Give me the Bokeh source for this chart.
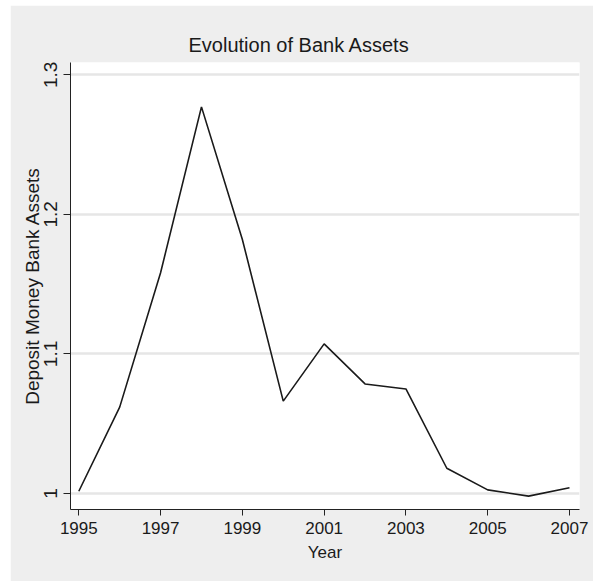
from bokeh.plotting import figure
from bokeh.models import Range1d, FixedTicker, NumeralTickFormatter
from bokeh.embed import file_html
from bokeh.resources import INLINE

years = [1995, 1996, 1997, 1998, 1999, 2000, 2001, 2002, 2003, 2004, 2005, 2006, 2007]
assets = [1.0016, 1.0619, 1.1582, 1.2770, 1.1820, 1.0662, 1.1072, 1.0785, 1.0749,
          1.0181, 1.0026, 0.9981, 1.0041]
x_ticks = [1995, 1997, 1999, 2001, 2003, 2005, 2007]
y_ticks = [1.0, 1.1, 1.2, 1.3]

REG = "Liberation Sans"
BG = "#eeeeee"

p = figure(width=583, height=576, output_backend="svg", toolbar_location=None,
           x_range=Range1d(1994.797, 2007.245), y_range=Range1d(0.98854, 1.3088),
           min_border_left=60, min_border_right=14, min_border_top=57, min_border_bottom=72,
           title="Evolution of Bank Assets")
p.margin = (5, 0, 0, 10)
p.border_fill_color = BG
p.background_fill_color = "white"
p.outline_line_color = None

p.title.align = "left"
p.title.text_font = REG
p.title.text_font_size = "20px"
p.title.text_font_style = "normal"
p.title.text_color = "#1a1a1a"
p.title.offset = 118
p.title.standoff = 14

p.line(years, assets, line_color="#1a1a1a", line_width=1.6)

p.xgrid.visible = False
p.ygrid.ticker = FixedTicker(ticks=y_ticks)
p.ygrid.grid_line_color = "#e6e6e6"
p.ygrid.grid_line_width = 2.5

xa = p.xaxis[0]
xa.ticker = FixedTicker(ticks=x_ticks)
xa.axis_label = "Year"
xa.axis_line_color = "#222222"
xa.major_tick_line_color = "#222222"
xa.major_tick_out = 6
xa.major_tick_in = 0
xa.minor_tick_line_color = None
xa.major_label_standoff = 6
xa.major_label_text_font = REG
xa.major_label_text_font_size = "17px"
xa.major_label_text_color = "#1a1a1a"
xa.axis_label_text_font = REG
xa.axis_label_text_font_size = "17px"
xa.axis_label_text_font_style = "normal"
xa.axis_label_text_color = "#1a1a1a"
xa.axis_label_standoff = 6

ya = p.yaxis[0]
ya.ticker = FixedTicker(ticks=y_ticks)
ya.formatter = NumeralTickFormatter(format="0.[0]")
ya.axis_label = "Deposit Money Bank Assets"
ya.axis_line_color = "#222222"
ya.major_tick_line_color = "#222222"
ya.major_tick_out = 7
ya.major_tick_in = 0
ya.minor_tick_line_color = None
ya.major_label_orientation = "vertical"
ya.major_label_standoff = 6
ya.major_label_text_font = REG
ya.major_label_text_font_size = "19px"
ya.major_label_text_color = "#1a1a1a"
ya.axis_label_text_font = REG
ya.axis_label_text_font_size = "19px"
ya.axis_label_text_font_style = "normal"
ya.axis_label_text_color = "#1a1a1a"
ya.axis_label_standoff = -1

open("out.html", "w").write(file_html(p, INLINE))
